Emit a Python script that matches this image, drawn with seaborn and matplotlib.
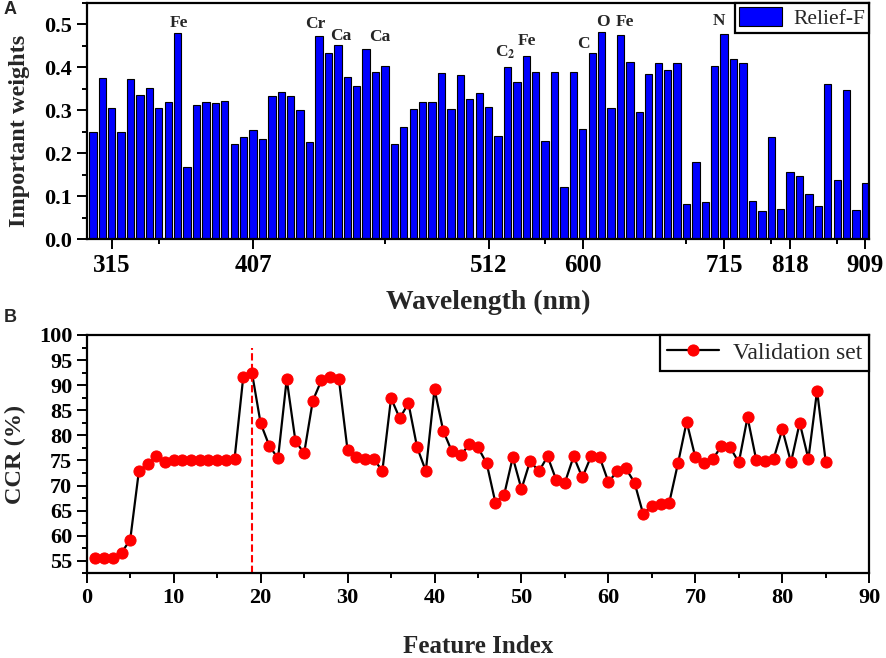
import numpy as np
import matplotlib
matplotlib.use('Agg')
import matplotlib.pyplot as plt
from matplotlib.ticker import MultipleLocator, FixedLocator
import seaborn as sns

# Panel A - Relief-F weights for each selected band
weights = [0.25, 0.375, 0.305, 0.25, 0.373, 0.335, 0.352, 0.305, 0.32, 0.48,
           0.168, 0.312, 0.32, 0.318, 0.322, 0.222, 0.237, 0.253, 0.234, 0.333,
           0.342, 0.332, 0.30, 0.226, 0.472, 0.434, 0.452, 0.378, 0.357, 0.442,
           0.39, 0.403, 0.221, 0.26, 0.302, 0.32, 0.32, 0.387, 0.302, 0.381,
           0.326, 0.339, 0.308, 0.24, 0.401, 0.366, 0.426, 0.388, 0.229, 0.39,
           0.122, 0.39, 0.257, 0.433, 0.482, 0.306, 0.474, 0.412, 0.297, 0.384,
           0.409, 0.394, 0.409, 0.081, 0.179, 0.086, 0.403, 0.478, 0.42, 0.409,
           0.088, 0.066, 0.237, 0.071, 0.157, 0.148, 0.106, 0.077, 0.361, 0.137,
           0.346, 0.069, 0.132]
bands = list(range(len(weights)))
wl_tick_bands = [2, 17, 42, 52, 67, 74, 82]
wl_labels = ['315', '407', '512', '600', '715', '818', '909']
wl_minor_bands = [7, 31, 48, 63, 72, 79]
# element lines (band position of label, height of label)
elements = ['Fe', 'Cr', 'Ca', 'Ca', r'C$_\mathbf{2}$', 'Fe', 'C', 'O', 'Fe', 'N']
element_x = [9.1, 23.6, 26.3, 30.4, 43.8, 46.1, 52.1, 54.1, 56.5, 66.4]
element_y = [0.503, 0.50, 0.472, 0.47, 0.435, 0.461, 0.455, 0.505, 0.505, 0.508]

# Panel B - CCR vs number of features
feature_index = list(range(1, 86))
ccr = [55.6, 55.5, 55.5, 56.6, 59.2, 72.9, 74.2, 75.8, 74.6, 75.1,
       75.1, 75.1, 75.1, 75.1, 75.1, 75.1, 75.3, 91.6, 92.5, 82.4,
       77.9, 75.4, 91.2, 78.9, 76.4, 86.9, 91.0, 91.6, 91.2, 77.0,
       75.6, 75.2, 75.3, 72.9, 87.4, 83.4, 86.4, 77.6, 72.9, 89.2,
       80.9, 76.8, 76.0, 78.2, 77.6, 74.4, 66.6, 68.1, 75.6, 69.3,
       74.9, 72.8, 75.8, 71.1, 70.6, 75.8, 71.6, 75.8, 75.6, 70.7,
       72.8, 73.4, 70.6, 64.3, 66.0, 66.3, 66.6, 74.4, 82.7, 75.6,
       74.4, 75.2, 77.9, 77.6, 74.6, 83.6, 75.1, 74.8, 75.3, 81.2,
       74.6, 82.5, 75.3, 88.9, 74.6]
best_k = 19

sns.set_style('ticks')
plt.rcParams['font.family'] = ['Liberation Serif', 'DejaVu Serif']
plt.rcParams['font.weight'] = 'bold'
plt.rcParams['axes.labelweight'] = 'bold'
plt.rcParams['mathtext.fontset'] = 'stix'
plt.rcParams['axes.linewidth'] = 1.6
for k in ['xtick.major.width', 'ytick.major.width', 'xtick.minor.width', 'ytick.minor.width']:
    plt.rcParams[k] = 1.4
plt.rcParams['xtick.major.size'] = 7
plt.rcParams['ytick.major.size'] = 7
plt.rcParams['xtick.minor.size'] = 3.5
plt.rcParams['ytick.minor.size'] = 3.5
plt.rcParams['xtick.color'] = 'black'
plt.rcParams['ytick.color'] = 'black'

fig = plt.figure(figsize=(8.86, 6.58), dpi=100)
ax1 = fig.add_axes([0.0979, 0.6363, 0.8832, 0.3596])
ax2 = fig.add_axes([0.0979, 0.1287, 0.8832, 0.3622])

# ---- panel A
sns.barplot(x=bands, y=weights, color='blue', saturation=1, width=0.78,
            edgecolor='black', linewidth=0.8, label='Relief-F', ax=ax1)
ax1.set_xlim(-0.65, 82.4)
ax1.set_ylim(0, 0.55)
ax1.xaxis.set_major_locator(FixedLocator(wl_tick_bands))
ax1.set_xticklabels(wl_labels, fontsize=18)
ax1.xaxis.set_minor_locator(FixedLocator(wl_minor_bands))
ax1.yaxis.set_minor_locator(MultipleLocator(0.05))
ax1.set_yticks(np.arange(0, 0.51, 0.1))
ax1.set_yticklabels(['%.1f' % v for v in np.arange(0, 0.51, 0.1)], fontsize=16)
ax1.set_xlabel('Wavelength (nm)', fontsize=20)
ax1.xaxis.set_label_coords(0.513, -0.215)
ax1.set_ylabel('Important weights', fontsize=17.5)
ax1.yaxis.set_label_coords(-0.072, 0.46)
for txt, xx, yy in zip(elements, element_x, element_y):
    ax1.text(xx, yy, txt, ha='center', va='center', fontsize=12.5, fontweight='bold')
leg1 = ax1.legend(loc='upper right', borderaxespad=0, fancybox=False,
                  edgecolor='black', framealpha=1, handlelength=2.0, handleheight=1.0,
                  borderpad=0.2, handletextpad=0.5,
                  prop={'family': 'Liberation Serif', 'weight': 'normal', 'size': 15.5})
leg1.get_frame().set_linewidth(1.6)

# ---- panel B
sns.lineplot(x=feature_index, y=ccr, color='black', lw=1.6, marker='o',
             markersize=8, markerfacecolor='red', markeredgecolor='red',
             label='Validation set', ax=ax2)
ax2.axvline(best_k, ymin=0, ymax=0.945, color='red', ls=(0, (3.5, 1.6)), lw=1.5)
ax2.set_xlim(0, 90)
ax2.set_ylim(52.5, 100)
ax2.xaxis.set_major_locator(MultipleLocator(10))
ax2.xaxis.set_minor_locator(MultipleLocator(5))
ax2.yaxis.set_major_locator(MultipleLocator(5))
ax2.yaxis.set_minor_locator(MultipleLocator(2.5))
ax2.tick_params(labelsize=16)
ax2.set_xlabel('Feature Index', fontsize=18)
ax2.xaxis.set_label_coords(0.5, -0.26)
ax2.set_ylabel('CCR (%)', fontsize=17.5)
ax2.yaxis.set_label_coords(-0.078, 0.5)
leg2 = ax2.legend(loc='upper right', borderaxespad=0, fancybox=False,
                  edgecolor='black', framealpha=1, handlelength=2.2,
                  borderpad=0.3, handletextpad=0.6,
                  prop={'family': 'Liberation Serif', 'weight': 'normal', 'size': 17})
leg2.get_frame().set_linewidth(1.6)

for ax in (ax1, ax2):
    for s in ax.spines.values():
        s.set_visible(True)
        s.set_color('black')
    ax.tick_params(which='both', direction='out', top=False, right=False)

fig.text(0.004, 0.979, 'A', fontsize=13, fontweight='bold', family='Liberation Sans')
fig.text(0.004, 0.51, 'B', fontsize=13, fontweight='bold', family='Liberation Sans')

fig.savefig('out.png', dpi=100)
